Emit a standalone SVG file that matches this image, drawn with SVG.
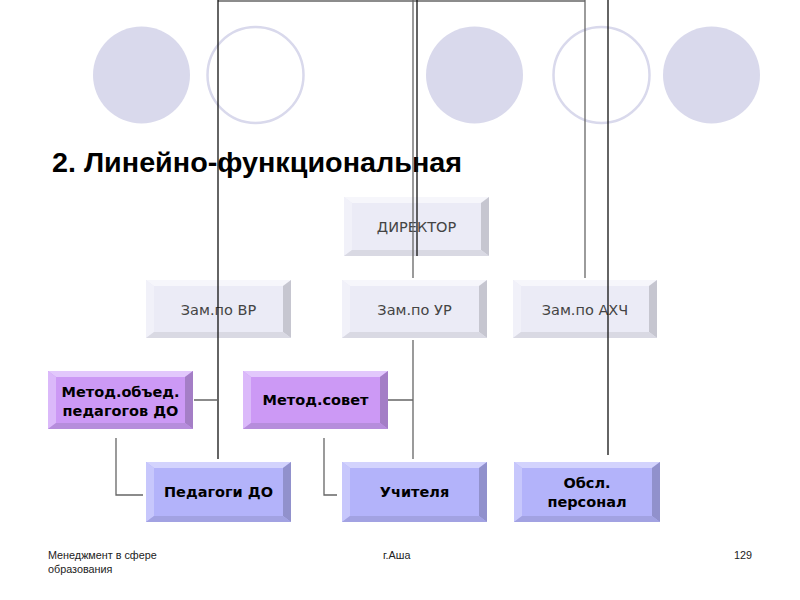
<svg xmlns="http://www.w3.org/2000/svg" width="800" height="600" viewBox="0 0 800 600">
<defs>
<style>
.cf{fill:#d9d9ec}
.co{fill:none;stroke:#d9d9ec;stroke-width:2.5}
.title{font-family:"Liberation Sans",Arial,sans-serif;font-weight:bold;font-size:27px;fill:#000}
.foot{font-family:"Liberation Sans",Arial,sans-serif;font-size:10.8px;fill:#222}
.lt{font-family:"DejaVu Sans",Verdana,sans-serif;font-size:14.5px;fill:#444;text-anchor:middle}
.bt{font-family:"DejaVu Sans",Verdana,sans-serif;font-weight:bold;font-size:14.5px;fill:#000;text-anchor:middle}
.conn{fill:none;stroke-width:1.3}
.k{stroke:#111}
.g{stroke:#666}
.L .face{fill:#ebebf6}.L .t{fill:#f6f6fb}.L .l{fill:#f1f1f9}.L .r{fill:#c6c6d0}.L .b{fill:#d9d9e3}
.P .face{fill:#cc99f5}.P .t{fill:#e2c8fc}.P .l{fill:#dbb9fa}.P .r{fill:#a47ec6}.P .b{fill:#b68ddc}
.B .face{fill:#b3b3fa}.B .t{fill:#d3d3fd}.B .l{fill:#c7c7fc}.B .r{fill:#9191cc}.B .b{fill:#a2a2e2}
</style>
</defs>
<rect width="800" height="600" fill="#fff"/>
<g id="decor">
<circle class="cf" cx="141.5" cy="75" r="48.5"/>
<circle class="co" cx="255.5" cy="75" r="48"/>
<circle class="cf" cx="474.5" cy="75" r="48.5"/>
<circle class="co" cx="601.5" cy="75" r="48"/>
<circle class="cf" cx="711.5" cy="75" r="48.5"/>
</g>
<text class="title" x="52" y="172" textLength="410" lengthAdjust="spacingAndGlyphs">2. Линейно-функциональная</text>

<g id="n-dir" class="L">
<rect class="face" x="344" y="197" width="145" height="59"/>
<polygon class="t" points="344,197 489,197 481,203 352,203"/>
<polygon class="l" points="344,197 352,203 352,250 344,256"/>
<polygon class="r" points="489,197 489,256 481,250 481,203"/>
<polygon class="b" points="344,256 489,256 481,250 352,250"/>
<text class="lt" x="416.5" y="232">ДИРЕКТОР</text>
</g>
<g id="n-vr" class="L">
<rect class="face" x="146" y="280" width="145" height="58"/>
<polygon class="t" points="146,280 291,280 283,286 154,286"/>
<polygon class="l" points="146,280 154,286 154,332 146,338"/>
<polygon class="r" points="291,280 291,338 283,332 283,286"/>
<polygon class="b" points="146,338 291,338 283,332 154,332"/>
<text class="lt" x="218.5" y="315">Зам.по ВР</text>
</g>
<g id="n-ur" class="L">
<rect class="face" x="342" y="280" width="145" height="58"/>
<polygon class="t" points="342,280 487,280 479,286 350,286"/>
<polygon class="l" points="342,280 350,286 350,332 342,338"/>
<polygon class="r" points="487,280 487,338 479,332 479,286"/>
<polygon class="b" points="342,338 487,338 479,332 350,332"/>
<text class="lt" x="414.5" y="315">Зам.по УР</text>
</g>
<g id="n-ahch" class="L">
<rect class="face" x="513" y="280" width="144" height="58"/>
<polygon class="t" points="513,280 657,280 649,286 521,286"/>
<polygon class="l" points="513,280 521,286 521,332 513,338"/>
<polygon class="r" points="657,280 657,338 649,332 649,286"/>
<polygon class="b" points="513,338 657,338 649,332 521,332"/>
<text class="lt" x="585" y="315">Зам.по АХЧ</text>
</g>
<g id="n-mo" class="P">
<rect class="face" x="48" y="371" width="145" height="58"/>
<polygon class="t" points="48,371 193,371 185,377 56,377"/>
<polygon class="l" points="48,371 56,377 56,423 48,429"/>
<polygon class="r" points="193,371 193,429 185,423 185,377"/>
<polygon class="b" points="48,429 193,429 185,423 56,423"/>
<text class="bt" x="120.5" y="397">Метод.объед.</text>
<text class="bt" x="120.5" y="416">педагогов ДО</text>
</g>
<g id="n-ms" class="P">
<rect class="face" x="243" y="371" width="145" height="58"/>
<polygon class="t" points="243,371 388,371 380,377 251,377"/>
<polygon class="l" points="243,371 251,377 251,423 243,429"/>
<polygon class="r" points="388,371 388,429 380,423 380,377"/>
<polygon class="b" points="243,429 388,429 380,423 251,423"/>
<text class="bt" x="315.5" y="405">Метод.совет</text>
</g>
<g id="n-ped" class="B">
<rect class="face" x="146" y="462" width="145" height="60"/>
<polygon class="t" points="146,462 291,462 283,468 154,468"/>
<polygon class="l" points="146,462 154,468 154,516 146,522"/>
<polygon class="r" points="291,462 291,522 283,516 283,468"/>
<polygon class="b" points="146,522 291,522 283,516 154,516"/>
<text class="bt" x="218.5" y="497">Педагоги ДО</text>
</g>
<g id="n-uch" class="B">
<rect class="face" x="342" y="462" width="145" height="60"/>
<polygon class="t" points="342,462 487,462 479,468 350,468"/>
<polygon class="l" points="342,462 350,468 350,516 342,522"/>
<polygon class="r" points="487,462 487,522 479,516 479,468"/>
<polygon class="b" points="342,522 487,522 479,516 350,516"/>
<text class="bt" x="414.5" y="497">Учителя</text>
</g>
<g id="n-obsl" class="B">
<rect class="face" x="514" y="462" width="146" height="60"/>
<polygon class="t" points="514,462 660,462 652,468 522,468"/>
<polygon class="l" points="514,462 522,468 522,516 514,522"/>
<polygon class="r" points="660,462 660,522 652,516 652,468"/>
<polygon class="b" points="514,522 660,522 652,516 522,516"/>
<text class="bt" x="587" y="488">Обсл.</text>
<text class="bt" x="587" y="507">персонал</text>
</g>

<g id="connectors" class="conn">
<path class="g" d="M218,1 H585"/>
<path class="k" d="M218,0 V459"/>
<path class="g" d="M413,0 V278 M413,340 V459"/>
<path class="k" d="M417,0 V256"/>
<path class="g" d="M585,0 V278"/>
<path class="k" d="M608,0 V455"/>
<path class="g" d="M194,400 H218 M388,400 H413"/>
<path class="g" d="M116,438 V495 H143 M324,438 V495 H337"/>
</g>

<g id="footer">
<text class="foot" x="48" y="559">Менеджмент в сфере</text>
<text class="foot" x="48" y="573">образования</text>
<text class="foot" x="383" y="559">г.Аша</text>
<text class="foot" x="734" y="559">129</text>
</g>
</svg>
